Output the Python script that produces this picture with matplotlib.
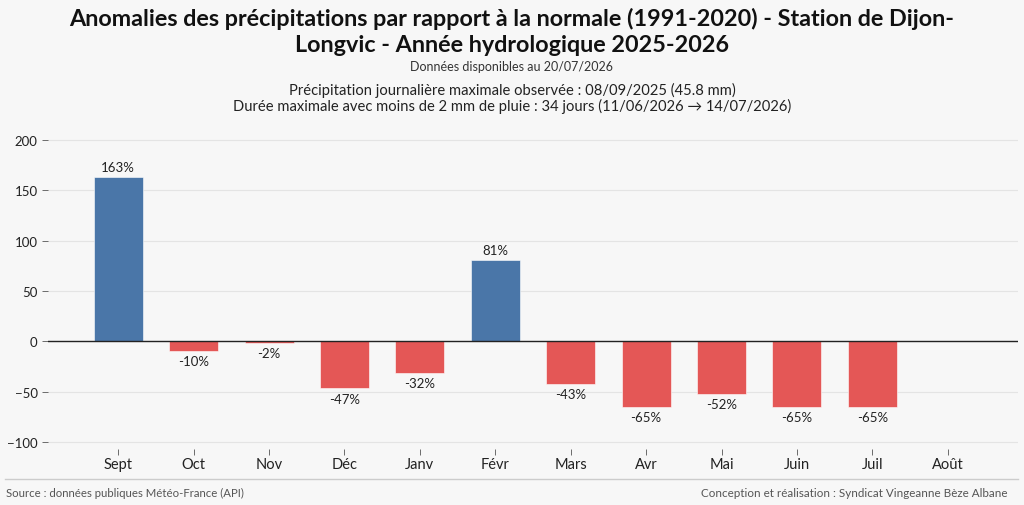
import matplotlib.pyplot as plt
import numpy as np

# Données : anomalies mensuelles (%) par rapport à la normale 1991-2020
mois = ["Sept", "Oct", "Nov", "Déc", "Janv", "Févr", "Mars", "Avr", "Mai", "Juin", "Juil", "Août"]
anomalies = [163, -10, -2, -47, -32, 81, -43, -65, -52, -65, -65, np.nan]
yticks = [-100, -50, 0, 50, 100, 150, 200]

bleu = "#4a76a8"
rouge = "#e45756"
fond = "#f7f7f7"

plt.rcParams['font.family'] = ['Lato', 'DejaVu Sans']

fig = plt.figure(figsize=(10.24, 5.06), dpi=100, facecolor=fond)
ax = fig.add_axes([0.047, 0.111, 0.947, 0.632], facecolor=fond)

x = np.arange(len(mois))
couleurs = [bleu if (v == v and v >= 0) else rouge for v in anomalies]
valeurs = [0 if v != v else v for v in anomalies]
barres = ax.bar(x, valeurs, width=0.65, color=couleurs, edgecolor="white", linewidth=0.4, zorder=3)

# étiquettes des barres
for xi, v in zip(x, anomalies):
    if v != v:
        continue
    if v >= 0:
        ax.text(xi, v + 4, f"{v:.0f}%", ha="center", va="bottom", fontsize=9.5, color="#222222")
    else:
        ax.text(xi, v - 4, f"{v:.0f}%", ha="center", va="top", fontsize=9.5, color="#222222")

ax.axhline(0, color="#222222", linewidth=1, zorder=4)
ax.set_xlim(-0.93, 11.93)
ax.set_ylim(-107, 211)
ax.set_yticks(yticks)
ax.set_yticklabels([str(t).replace("-", "\u2212") for t in yticks])
ax.set_xticks(x)
ax.set_xticklabels(mois, fontsize=10.5)
ax.grid(axis="y", color="#e4e4e4", linewidth=0.8, zorder=0)
for s in ax.spines.values():
    s.set_visible(False)
ax.tick_params(axis="y", labelsize=9.5, colors="#555555", labelcolor="#222222", length=4, width=0.6)
ax.tick_params(axis="x", colors="#555555", labelcolor="#222222", length=4, width=0.6, pad=2)

# titres
fig.text(0.5, 0.963, "Anomalies des précipitations par rapport à la normale (1991-2020) - Station de Dijon-",
         ha="center", va="center", fontsize=16.8, fontweight="bold", color="#111111")
fig.text(0.5, 0.911, "Longvic - Année hydrologique 2025-2026",
         ha="center", va="center", fontsize=16.8, fontweight="bold", color="#111111")
fig.text(0.5, 0.867, "Données disponibles au 20/07/2026", ha="center", va="center", fontsize=9, color="#333333")
fig.text(0.5, 0.822, "Précipitation journalière maximale observée : 08/09/2025 (45.8 mm)",
         ha="center", va="center", fontsize=10.6, color="#222222")
fig.text(0.5, 0.790, "Durée maximale avec moins de 2 mm de pluie : 34 jours (11/06/2026 \u2192 14/07/2026)",
         ha="center", va="center", fontsize=10.6, color="#222222")

# pied de page
fig.add_artist(plt.Line2D([0.005, 0.994], [0.051, 0.051], transform=fig.transFigure, color="#cccccc", linewidth=1))
fig.text(0.006, 0.025, "Source : données publiques Météo-France (API)", ha="left", va="center", fontsize=8.2, color="#555555")
fig.text(0.984, 0.025, "Conception et réalisation : Syndicat Vingeanne Bèze Albane", ha="right", va="center",
         fontsize=8.4, color="#555555")

plt.savefig("out.png", dpi=100, facecolor=fond)
